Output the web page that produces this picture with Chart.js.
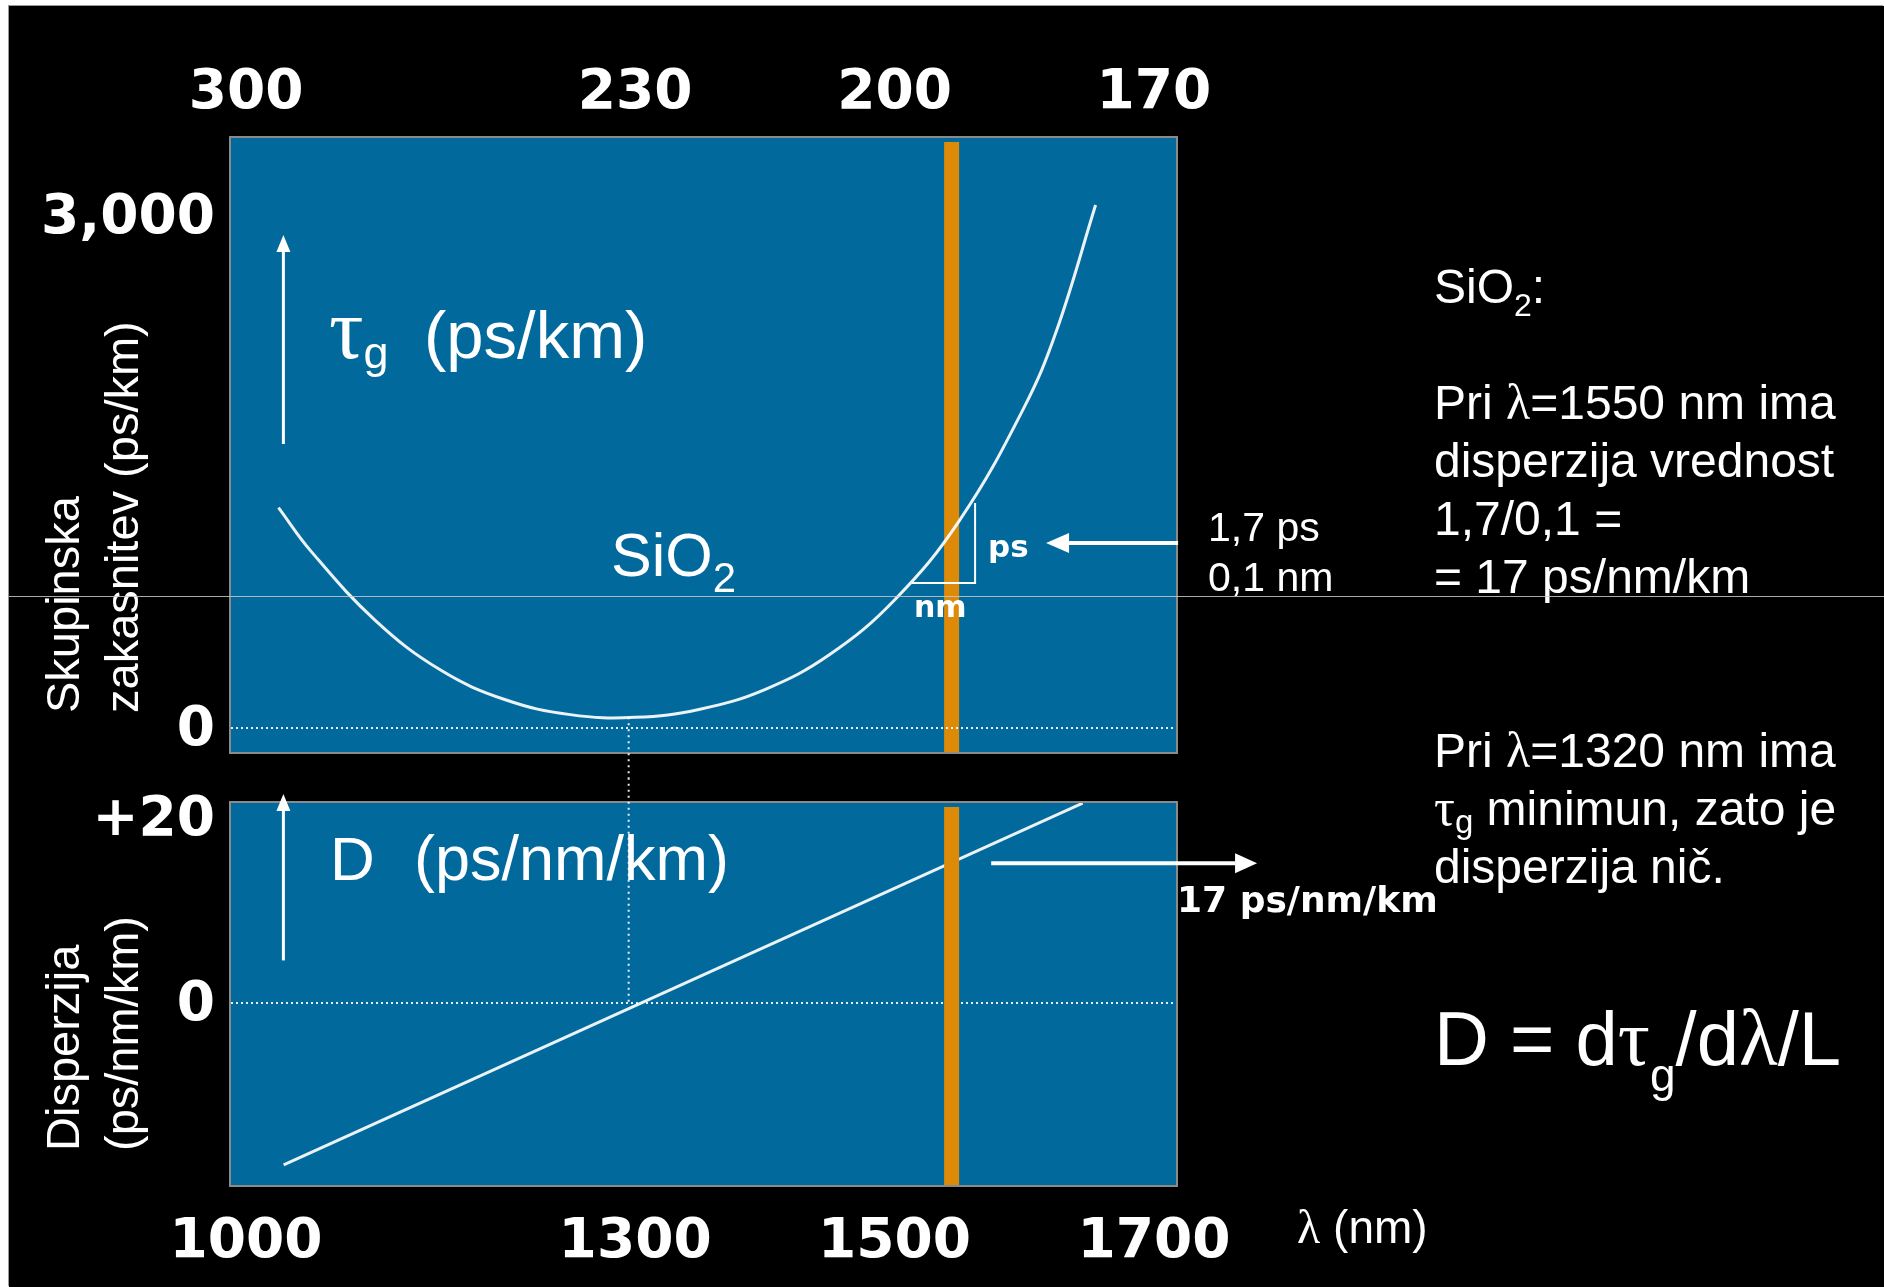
<!DOCTYPE html>
<html>
<head>
<meta charset="utf-8">
<title>Skupinska zakasnitev in disperzija SiO2</title>
<script src="https://cdn.jsdelivr.net/npm/chart.js@4.4.1/dist/chart.umd.min.js"></script>
<style>
  html, body { margin: 0; padding: 0; background: #fff; }
  #stage { position: relative; width: 1884px; height: 1287px; overflow: hidden; background: #fff; }
  #slide { position: absolute; left: 9px; top: 6px; width: 1875px; height: 1281px; background: #000; box-shadow: -1px -1px 0 #9a9a9a; }
  canvas { position: absolute; left: 0; }
  #tauCanvas { top: 0; }
  #dispCanvas { top: 778px; }
  .t { position: absolute; color: #fff; white-space: nowrap; line-height: 1; font-family: 'Liberation Sans', Arial, sans-serif; z-index: 5; }
  .sym { font-family: 'Liberation Serif', 'Times New Roman', serif; line-height: 0; }
  .sub { position: relative; line-height: 0; }
  #scanline { position: absolute; left: 9px; top: 596px; width: 1875px; height: 1px; background: rgba(200, 200, 200, 0.85); z-index: 8; }
</style>
</head>
<body>
<div id="stage">
  <div id="slide"></div>
  <canvas id="tauCanvas" width="1884" height="778"></canvas>
  <canvas id="dispCanvas" width="1884" height="509"></canvas>
  <div id="scanline"></div>
</div>
<script>
// wavelength axis (nm) and the frequency labels (THz) shown on top
const lambdaTicks = [1000, 1300, 1500, 1700];
const lambdaTickLabels = ['1000', '1300', '1500', '1700'];
const freqTickLabels = ['300', '230', '200', '170'];

// group delay tau_g (ps/km)
const tauTicks = [0, 3000];
const tauTickLabels = ['0', '3,000'];
const tauLambda = [1025, 1050, 1100, 1150, 1200, 1250, 1300, 1350, 1400, 1450, 1500, 1550, 1600, 1625, 1655];
const tauValues = [1291, 1036, 628, 339, 165, 78, 62, 110, 225, 430, 750, 1215, 1880, 2330, 3064];

// dispersion D (ps/nm/km)
const dispTicks = [0, 20];
const dispTickLabels = ['0', '+20'];
const dispLambda = [1029, 1645];
const dispValues = [-17.5, 21.6];

// markers
const operatingLambda = 1544;   // orange band (~1550 nm)
const zeroDispLambda = 1295;    // tau_g minimum / D = 0
const tauMinValue = 62;

const X_MIN = 988.4, X_MAX = 1717;
const TAU_MIN = -141, TAU_MAX = 3457;
const D_MIN = -19.68, D_MAX = 21.62;

const PANEL_BLUE = '#02699d';
const ORANGE = '#dc8a08';
const CURVE = 'rgba(255,255,255,0.92)';
const DOTS = 'rgba(255,255,255,0.9)';
const TICK_FONT = { family: "'DejaVu Sans', sans-serif", size: 55, weight: 'bold' };

const stage = document.getElementById('stage');

function drawArrow(ctx, x1, y1, x2, y2, w, head) {
  const [len, half] = head;
  const ang = Math.atan2(y2 - y1, x2 - x1);
  const bx = x2 - len * Math.cos(ang), by = y2 - len * Math.sin(ang);
  ctx.lineWidth = w;
  ctx.beginPath(); ctx.moveTo(x1, y1); ctx.lineTo(bx, by); ctx.stroke();
  ctx.beginPath();
  ctx.moveTo(x2, y2);
  ctx.lineTo(bx + half * Math.sin(ang), by - half * Math.cos(ang));
  ctx.lineTo(bx - half * Math.sin(ang), by + half * Math.cos(ang));
  ctx.closePath(); ctx.fill();
}

const panelPlugin = {
  id: 'panel',
  beforeDraw(chart) {
    const { ctx, chartArea: a } = chart;
    ctx.save();
    ctx.fillStyle = PANEL_BLUE;
    ctx.fillRect(a.left, a.top, a.width, a.height);
    ctx.strokeStyle = '#8a8a8a';
    ctx.lineWidth = 2;
    ctx.strokeRect(a.left - 1, a.top - 1, a.width + 2, a.height + 2);
    ctx.restore();
  }
};

const notesPlugin = {
  id: 'notes',
  afterDatasetsDraw(chart, args, opts) {
    const { ctx, scales: { x, y } } = chart;
    const px = v => x.getPixelForValue(v), py = v => y.getPixelForValue(v);
    ctx.save();
    ctx.strokeStyle = '#fff';
    ctx.fillStyle = '#fff';
    (opts.paths || []).forEach(p => {
      ctx.lineWidth = p.width;
      ctx.beginPath();
      p.points.forEach(([vx, vy], i) => i ? ctx.lineTo(px(vx), py(vy)) : ctx.moveTo(px(vx), py(vy)));
      ctx.stroke();
    });
    (opts.arrows || []).forEach(a => {
      drawArrow(ctx, px(a.from[0]), py(a.from[1]), px(a.to[0]), py(a.to[1]), a.width, a.head);
    });
    ctx.restore();
  }
};

function axes(o) {
  return {
    x: {
      type: 'linear', position: o.xPos, min: X_MIN, max: X_MAX,
      afterBuildTicks: s => { s.ticks = lambdaTicks.map(v => ({ value: v })); },
      afterFit: s => { s.height = o.xHeight; s.paddingLeft = 0; s.paddingRight = 0; },
      grid: { display: false, drawTicks: false },
      border: { display: false },
      ticks: { color: '#fff', font: TICK_FONT, padding: o.xPad, autoSkip: false, maxRotation: 0,
               callback: (v, i) => o.xLabels[i] }
    },
    y: {
      type: 'linear', position: 'left', min: o.yMin, max: o.yMax,
      afterBuildTicks: s => { s.ticks = o.yTicks.map(v => ({ value: v })); },
      afterFit: s => { s.width = 231; s.paddingTop = 0; s.paddingBottom = 0; },
      grid: { display: false, drawTicks: false },
      border: { display: false },
      ticks: { color: '#fff', font: TICK_FONT, padding: 16, labelOffset: 3, autoSkip: false,
               callback: (v, i) => o.yLabels[i] }
    }
  };
}

const common = {
  responsive: false,
  animation: false,
  devicePixelRatio: 1,
  events: [],
  elements: { point: { radius: 0 } }
};

new Chart(document.getElementById('tauCanvas'), {
  type: 'line',
  plugins: [panelPlugin, notesPlugin],
  data: {
    datasets: [
      { label: 'tau_g', data: tauLambda.map((x, i) => ({ x, y: tauValues[i] })),
        borderColor: CURVE, borderWidth: 3, tension: 0.4, order: 0 },
      { label: 'zero', data: [{ x: X_MIN, y: 0 }, { x: X_MAX, y: 0 }],
        borderColor: DOTS, borderWidth: 2, borderDash: [2, 3], order: 1 },
      { label: 'minimum', data: [{ x: zeroDispLambda, y: tauMinValue }, { x: zeroDispLambda, y: -320 }],
        borderColor: DOTS, borderWidth: 2, borderDash: [2, 4], clip: false, order: 1 },
      { label: '1550 nm', data: [{ x: operatingLambda, y: 3433 }, { x: operatingLambda, y: TAU_MIN }],
        borderColor: ORANGE, borderWidth: 15, borderCapStyle: 'butt', order: 2 }
    ]
  },
  options: {
    ...common,
    layout: { padding: { left: 0, top: 0, right: 708, bottom: 26 } },
    scales: axes({ xPos: 'top', xHeight: 138, xPad: 11, xLabels: freqTickLabels,
                   yMin: TAU_MIN, yMax: TAU_MAX, yTicks: tauTicks, yLabels: tauTickLabels }),
    plugins: {
      legend: { display: false }, tooltip: { enabled: false },
      notes: {
        paths: [{ width: 2, points: [[1513.5, 850], [1562.1, 850], [1562.1, 1318]] }],
        arrows: [
          { from: [1028.8, 1664], to: [1028.8, 2889], width: 3, head: [17, 7] },
          { from: [1718.6, 1084], to: [1616.8, 1084], width: 4, head: [23, 10] }
        ]
      }
    }
  }
});

new Chart(document.getElementById('dispCanvas'), {
  type: 'line',
  plugins: [panelPlugin, notesPlugin],
  data: {
    datasets: [
      { label: '1550 nm', data: [{ x: operatingLambda, y: 21.2 }, { x: operatingLambda, y: D_MIN }],
        borderColor: ORANGE, borderWidth: 15, borderCapStyle: 'butt', order: 0 },
      { label: 'D', data: dispLambda.map((x, i) => ({ x, y: dispValues[i] })),
        borderColor: CURVE, borderWidth: 3, order: 1 },
      { label: 'zero', data: [{ x: X_MIN, y: 0 }, { x: X_MAX, y: 0 }],
        borderColor: DOTS, borderWidth: 2, borderDash: [2, 3], order: 2 },
      { label: 'minimum', data: [{ x: zeroDispLambda, y: 25 }, { x: zeroDispLambda, y: 0 }],
        borderColor: DOTS, borderWidth: 2, borderDash: [2, 4], clip: false, order: 2 }
    ]
  },
  options: {
    ...common,
    layout: { padding: { left: 0, top: 25, right: 708, bottom: 0 } },
    scales: axes({ xPos: 'bottom', xHeight: 102, xPad: 25, xLabels: lambdaTickLabels,
                   yMin: D_MIN, yMax: D_MAX, yTicks: dispTicks, yLabels: dispTickLabels }),
    plugins: {
      legend: { display: false }, tooltip: { enabled: false },
      notes: {
        arrows: [
          { from: [1028.8, 4.6], to: [1028.8, 22.6], width: 3, head: [17, 7] },
          { from: [1574.5, 15.1], to: [1779.5, 15.1], width: 4, head: [22, 10] }
        ]
      }
    }
  }
});

// text: baseline-positioned labels
const BASE = { sans: 0.8465, serif: 0.8375, dejavu: 0.846 };
function label(html, x, baseline, size, family = 'sans', bold = false) {
  const el = document.createElement('div');
  el.className = 't';
  el.style.left = x + 'px';
  el.style.top = (baseline - BASE[family] * size) + 'px';
  el.style.fontSize = size + 'px';
  if (family === 'dejavu') el.style.fontFamily = "'DejaVu Sans', sans-serif";
  if (family === 'serif') el.style.fontFamily = "'Liberation Serif', serif";
  if (bold) el.style.fontWeight = 'bold';
  el.innerHTML = html;
  stage.appendChild(el);
}
function yTitle(lines, x, bottom) {
  const el = document.createElement('div');
  el.className = 't';
  el.style.fontSize = '47px';
  el.style.lineHeight = '59px';
  el.style.left = x + 'px';
  el.style.top = bottom + 'px';
  el.style.transformOrigin = '0 0';
  el.style.transform = 'rotate(-90deg)';
  el.innerHTML = lines.join('<br>');
  stage.appendChild(el);
}
const sym = (c, size) => `<span class="sym"${size ? ` style="font-size:${size}px"` : ''}>${c}</span>`;
const sub = (c, size, dy) => `<span class="sub" style="font-size:${size}px;top:${dy}px">${c}</span>`;

yTitle(['Skupinska', 'zakasnitev (ps/km)'], 33, 713);
yTitle(['Disperzija', '(ps/nm/km)'], 33, 1151);

label(sym('τ', 86) + sub('g', 45, 10), 329, 358, 67);
label('(ps/km)', 424, 358, 67);
label('SiO' + sub('2', 42, 16), 611, 577, 61);
label('D', 330, 880, 62);
label('(ps/nm/km)', 414, 880, 63);

label('ps', 988, 557, 31, 'dejavu', true);
label('nm', 914, 617, 30, 'dejavu', true);
label('1,7 ps', 1208, 542, 41);
label('0,1 nm', 1208, 592, 41);
label('17 ps/nm/km', 1177, 912, 36, 'dejavu', true);
label(sym('λ', 48) + ' (nm)', 1297, 1243, 46);

const RX = 1434;
label('SiO' + sub('2', 32, 13) + ':', RX, 304, 48);
label('Pri ' + sym('λ', 50) + '=1550 nm ima', RX, 420, 48);
label('disperzija vrednost', RX, 478, 48);
label('1,7/0,1 =', RX, 536, 48);
label('= 17 ps/nm/km', RX, 594, 48);
label('Pri ' + sym('λ', 50) + '=1320 nm ima', RX, 768, 48);
label(sym('τ', 52) + sub('g', 33, 8) + ' minimun, zato je', RX, 826, 48);
label('disperzija nič.', RX, 884, 48);

label('D = d' + sym('τ', 80) + sub('g', 46, 26) + '/d' + sym('λ', 80) + '/L', RX, 1065, 76);
</script>
</body>
</html>
